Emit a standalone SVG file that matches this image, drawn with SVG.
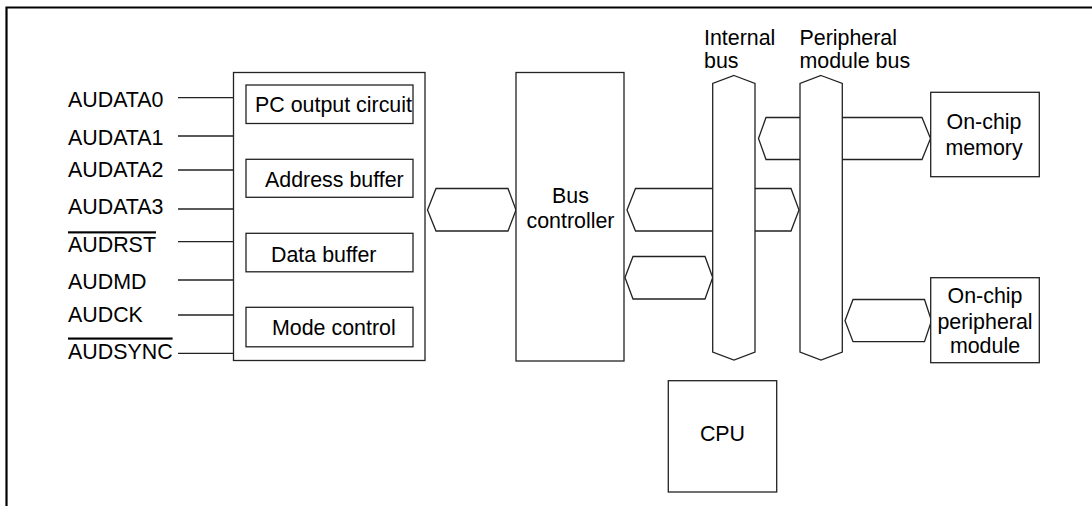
<svg xmlns="http://www.w3.org/2000/svg" width="1092" height="506" viewBox="0 0 1092 506">
<style>
text{font-family:"Liberation Sans",Arial,sans-serif;font-size:21.4px;fill:#000}
.box{fill:#fff;stroke:#222;stroke-width:1.3}
.bus{fill:#fff;stroke:#222;stroke-width:1.3;stroke-linejoin:miter}
.sig{stroke:#222;stroke-width:1.3;fill:none}
.ol{text-decoration:overline}
.mid{text-anchor:middle}
</style>
<rect width="1092" height="506" fill="#fff"/>
<g id="frame">
<path d="M6.5 506V7.5H1092" fill="none" stroke="#000" stroke-width="2.2"/>
</g>
<g id="connectors">
<line class="sig" x1="178" y1="97.7" x2="233.5" y2="97.7"/>
<line class="sig" x1="178" y1="136" x2="233.5" y2="136"/>
<line class="sig" x1="178" y1="170" x2="233.5" y2="170"/>
<line class="sig" x1="178" y1="209" x2="233.5" y2="209"/>
<line class="sig" x1="178" y1="241.7" x2="233.5" y2="241.7"/>
<line class="sig" x1="178" y1="280" x2="233.5" y2="280"/>
<line class="sig" x1="178" y1="315" x2="233.5" y2="315"/>
<line class="sig" x1="178" y1="353.3" x2="233.5" y2="353.3"/>
<polygon class="bus" points="427.5,210 436,188.5 508,188.5 516,210 508,231 436,231"/>
<polygon class="bus" points="627,210 635.5,188.5 791,188.5 799,210 791,231 635.5,231"/>
<polygon class="bus" points="625,277.5 633,256.5 705,256.5 712.7,277.5 705,299 633,299"/>
<polygon class="bus" points="758.5,138.5 766,117.5 922,117.5 930.5,138.5 922,159.5 766,159.5"/>
<polygon class="bus" points="845,320.7 853,299.5 924.5,299.5 931.5,320.7 924.5,341.7 853,341.7"/>
</g>
<g id="signals">
<text x="68" y="107">AUDATA0</text>
<text x="68" y="145">AUDATA1</text>
<text x="68" y="177">AUDATA2</text>
<text x="68" y="213.5">AUDATA3</text>
<text x="68" y="252.3" class="ol">AUDRST</text>
<text x="68" y="289.3">AUDMD</text>
<text x="68" y="321.7">AUDCK</text>
<text x="68" y="358.5" class="ol">AUDSYNC</text>
</g>
<g id="aud">
<rect class="box" x="233.5" y="72.5" width="191.5" height="288"/>
</g>
<g id="pc-output">
<rect class="box" x="246" y="85" width="167" height="38.5"/>
<text x="255" y="112">PC output circuit</text>
</g>
<g id="address-buffer">
<rect class="box" x="246" y="159.3" width="167" height="38"/>
<text x="265" y="186.5">Address buffer</text>
</g>
<g id="data-buffer">
<rect class="box" x="246" y="233.3" width="167" height="38.5"/>
<text x="271" y="261.5">Data buffer</text>
</g>
<g id="mode-control">
<rect class="box" x="246" y="307.3" width="167" height="39.5"/>
<text x="272" y="335">Mode control</text>
</g>
<g id="bus-controller">
<rect class="box" x="516" y="72.5" width="108" height="288.5"/>
<text x="570.5" y="203.3" class="mid">Bus</text>
<text x="570.5" y="228.3" class="mid">controller</text>
</g>
<g id="internal-bus">
<polygon class="bus" points="734,75.5 755,83.5 755,352 734,360 712.7,352 712.7,83.5"/>
<text x="704" y="44.5">Internal</text>
<text x="704" y="68.3">bus</text>
</g>
<g id="peripheral-bus">
<polygon class="bus" points="821,75.5 842.3,83.5 842.3,352 821,360 800,352 800,83.5"/>
<text x="799.5" y="44.5">Peripheral</text>
<text x="799.5" y="68.3">module bus</text>
</g>
<g id="on-chip-memory">
<rect class="box" x="930.7" y="92.3" width="108.6" height="84.4"/>
<text x="984" y="129" class="mid">On-chip</text>
<text x="984" y="155" class="mid">memory</text>
</g>
<g id="on-chip-peripheral">
<rect class="box" x="930.7" y="277.7" width="108.6" height="85"/>
<text x="985" y="303.3" class="mid">On-chip</text>
<text x="985" y="329" class="mid">peripheral</text>
<text x="985" y="353.3" class="mid">module</text>
</g>
<g id="cpu">
<rect class="box" x="668.3" y="380.7" width="108.4" height="111.3"/>
<text x="722.5" y="441" class="mid">CPU</text>
</g>
</svg>
